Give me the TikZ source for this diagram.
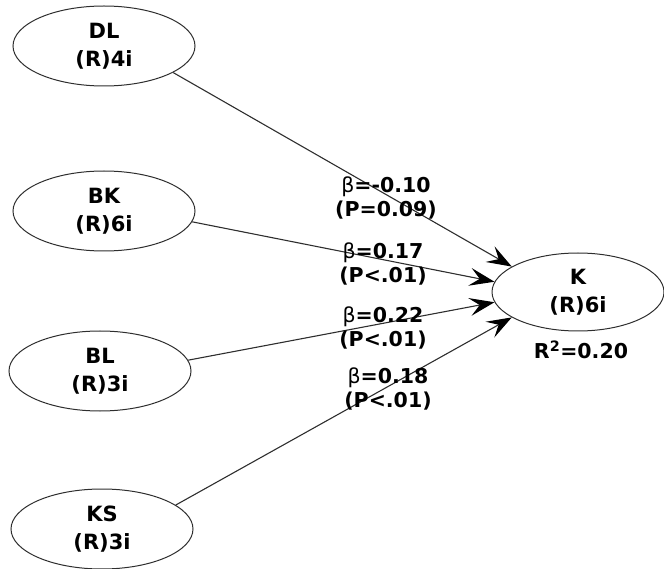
\documentclass[tikz,border=0pt]{standalone}
\usepackage{fontspec}
\setsansfont{DejaVu Sans}
\usepackage{tikz}
\usetikzlibrary{positioning, arrows.meta, calc, shapes.geometric}
\definecolor{pathgray}{HTML}{2E2E2E}

\newcommand{\bet}{{\mdseries β}}

\begin{document}
\begin{tikzpicture}[x=1pt, y=-1pt,
    latent/.style={ellipse, draw=pathgray, line width=1pt, minimum width=182pt, minimum height=80pt,
                   inner sep=0pt, align=center, font=\sffamily\bfseries\fontsize{21}{28}\selectfont},
    coef/.style={align=center, inner sep=0pt, font=\sffamily\bfseries\fontsize{20.5}{24}\selectfont},
    pathline/.style={draw=pathgray, line width=1.1pt,
                     -{Stealth[length=25pt, width=18pt, inset=10pt, color=black]}}]
  \useasboundingbox (0,0) rectangle (664,569);

  % latent variables
  \node[latent] (DL) at (104,46) {DL\\(R)4i};
  \node[latent] (BK) at (104,211) {BK\\(R)6i};
  \node[latent] (BL) at (100,371) {BL\\(R)3i};
  \node[latent] (KS) at (102,529) {KS\\(R)3i};
  \node[latent, minimum width=172pt, minimum height=78pt] (K) at (578,292) {K\\(R)6i};
  \node[coef] (Rsq) at (581,350) {R\textsuperscript{2}=0.20};

  % paths
  \draw[pathline] (DL.-21) -- (K.159);
  \draw[pathline] (BK.-7) -- (K.173);
  \draw[pathline] (BL.7) -- (K.187);
  \draw[pathline] (KS.18) -- (K.201);

  % path coefficients
  \node[coef] (cDL) at (386,198) {\bet=-0.10\\(P=0.09)};
  \node[coef] (cBK) at (383,264) {\bet=0.17\\(P<.01)};
  \node[coef] (cBL) at (383,328) {\bet=0.22\\(P<.01)};
  \node[coef] (cKS) at (388,389) {\bet=0.18\\(P<.01)};
\end{tikzpicture}
\end{document}
